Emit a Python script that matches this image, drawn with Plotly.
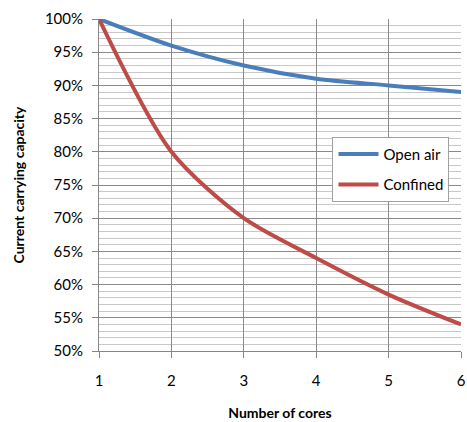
import plotly.graph_objects as go

cores = [1, 2, 3, 4, 5, 6]
open_air = [100, 96, 93, 91, 90, 89]
confined = [100, 80, 70, 64, 58.5, 54]

font_family = "Lato, Open Sans, sans-serif"

fig = go.Figure()
fig.add_trace(go.Scatter(x=cores, y=open_air, name="Open air", mode="lines", legendgroup="a",
                         line=dict(color="#4a7ebb", width=4, shape="spline", smoothing=0.8)))
fig.add_trace(go.Scatter(x=cores, y=confined, name="Confined", mode="lines", legendgroup="b",
                         line=dict(color="#be4b48", width=4, shape="spline", smoothing=0.8)))

fig.update_layout(
    width=467, height=422,
    margin=dict(l=99, r=6, t=19, b=71, autoexpand=False),
    paper_bgcolor="white", plot_bgcolor="white",
    font=dict(family=font_family, size=15, color="#000"),
    showlegend=True,
    legend=dict(x=0.645, y=0.645, xanchor="left", yanchor="top",
                bgcolor="white", bordercolor="#a0a0a0", borderwidth=1,
                font=dict(size=15), itemwidth=40, tracegroupgap=8),
)
fig.update_xaxes(
    range=[1, 6], tickvals=cores, ticks="outside", ticklen=6, tickcolor="#868686",
    showgrid=True, gridcolor="#8a8a8a", gridwidth=1,
    showline=True, linecolor="#868686", linewidth=1,
    zeroline=False, ticklabelstandoff=10, automargin=False,
    ticklabeloverflow="allow",
    title=dict(text="<b>Number of cores</b>", font=dict(size=14), standoff=20),
)
fig.update_yaxes(
    range=[50, 100], dtick=5, ticksuffix="%", ticks="outside", ticklen=6, tickcolor="#868686",
    showgrid=True, gridcolor="#8a8a8a", gridwidth=1,
    minor=dict(dtick=1, showgrid=True, gridcolor="#c8c8c8", gridwidth=1),
    showline=True, linecolor="#868686", linewidth=1,
    zeroline=False, ticklabelstandoff=6, automargin=False,
    title=dict(text="<b>Current carrying capacity</b>", font=dict(size=14), standoff=16),
)

fig.write_html("out.html")
